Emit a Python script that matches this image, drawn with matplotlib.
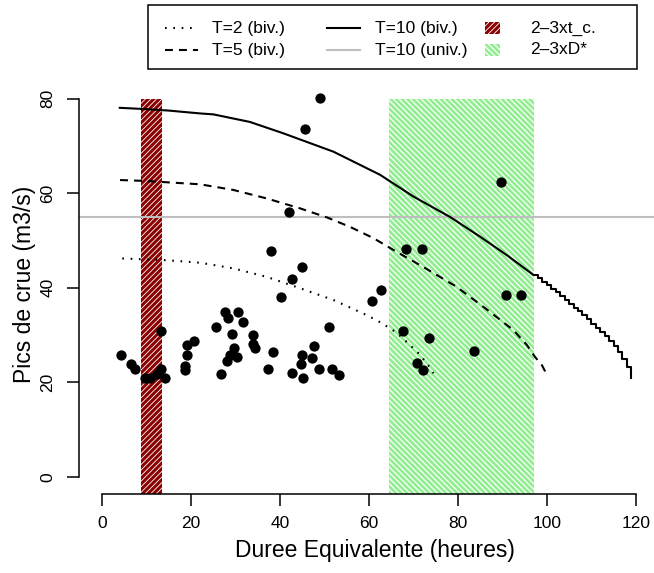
import matplotlib
matplotlib.use('Agg')
import matplotlib.pyplot as plt
from matplotlib.patches import Rectangle

plt.rcParams['font.family'] = ['Liberation Sans', 'DejaVu Sans']
plt.rcParams['hatch.linewidth'] = 0.7

# ---------------- data ----------------
dur_obs = [4.1, 6.5, 7.4, 9.6, 10.7, 12.3, 13.2, 14.1, 13.2, 18.6, 18.6, 19.0, 19.0, 20.6,
           25.6, 26.6, 27.6, 28.2, 30.6, 31.6, 29.1, 34.0, 33.8, 34.3, 29.7, 28.7, 30.4, 28.1,
           37.3, 38.5, 40.1, 38.0, 41.9, 42.7, 44.9, 45.5, 49.0, 42.6, 44.9, 47.1, 47.6, 44.7,
           45.1, 48.8, 51.1, 51.6, 53.3, 60.6, 62.8, 68.3, 71.9, 67.6, 73.4, 83.7, 70.9, 72.2,
           89.7, 90.8, 94.2]
pic_obs = [25.8, 23.8, 22.7, 21.0, 21.0, 21.8, 22.9, 21.0, 30.8, 22.6, 23.4, 25.8, 27.9, 28.7,
           31.7, 21.7, 34.8, 33.5, 34.9, 32.8, 30.3, 29.9, 28.0, 27.3, 27.2, 25.8, 25.4, 24.6,
           22.7, 26.5, 38.1, 47.7, 56.0, 41.8, 44.3, 73.5, 80.1, 22.0, 25.8, 25.1, 27.7, 23.9,
           21.0, 22.7, 31.7, 22.9, 21.5, 37.2, 39.6, 48.3, 48.3, 30.8, 29.3, 26.7, 24.0, 22.6,
           62.3, 38.5, 38.5]

t2_x = [4.5, 10, 15, 22, 29.5, 37, 44.5, 52, 59.5, 62.7, 66.2, 69.2, 71.5, 73.3, 74.5]
t2_y = [46.2, 46.0, 45.8, 45.3, 44.1, 42.3, 39.9, 37.4, 34.2, 32.6, 30.5, 27.9, 25.8, 23.6, 21.9]

t5_x = [4, 10, 15, 22, 29.5, 37, 44.5, 50.5, 55.7, 61, 66.2, 72.2, 79.7, 87.2, 92.5, 95.5,
        97.3, 98.9, 100.2]
t5_y = [62.8, 62.6, 62.3, 61.9, 60.7, 58.9, 56.8, 54.9, 52.9, 50.5, 47.6, 44.4, 40.2, 34.9,
        31.0, 27.9, 25.4, 23.6, 21.2]

t10_x = [3.7, 10, 15, 22, 25, 33.2, 40.7, 52, 62.5, 70, 78.2, 85, 91, 97]
t10_y = [78.1, 77.8, 77.5, 76.9, 76.7, 75.1, 72.7, 68.8, 63.9, 59.3, 55.0, 50.8, 46.9, 42.7]
t10_tail_x = [97, 98, 99, 100, 101, 102, 103, 104, 105, 106, 107, 108, 109, 110, 111, 112,
              113, 114, 115, 116, 117, 118, 119]
t10_tail_y = [42.7, 42.0, 41.3, 40.6, 39.8, 39.0, 38.2, 37.4, 36.6, 35.8, 35.0, 34.2, 33.3,
              32.4, 31.5, 30.6, 29.7, 28.7, 27.6, 26.4, 25.0, 23.3, 21.0]

t10_univ = 55.0
band_tc = (8.8, 13.4)
band_D = (64.5, 97.0)
band_top = 80

x_ticks = [0, 20, 40, 60, 80, 100, 120]
y_ticks = [0, 20, 40, 60, 80]

legend_labels = ['T=2 (biv.)', 'T=5 (biv.)', 'T=10 (biv.)', 'T=10 (univ.)',
                 '2\u20133xt_c.', '2\u20133xD*']

# ---------------- styles ----------------
RED = '#8B0000'
GREEN = '#90EE90'
GREY = '#BEBEBE'
LW = 1.5
DOT = (0.8, 3.2)
DASH = (3.8, 2.9)
HATCH_RED = '//////'
HATCH_GREEN = '\\\\\\\\\\\\'

W, H = 654, 573
fig = plt.figure(figsize=(W / 100, H / 100), dpi=100)


def px_box(l, t, r, b):
    return [l / W, 1 - b / H, (r - l) / W, (b - t) / H]


ax = fig.add_axes(px_box(79.3, 78, 654, 494.3))
ax.set_xlim(-5.17, 124.1)
ax.set_ylim(-3.72, 84.4)
ybot = ax.get_ylim()[0]


def hatched(axis, x0, y0, w, h, face, hatch, hlw):
    r = Rectangle((x0, y0), w, h, facecolor=face, edgecolor='white', hatch=hatch,
                  linewidth=0, zorder=1)
    try:
        r.set_hatch_linewidth(hlw)
    except AttributeError:
        pass
    axis.add_patch(r)
    return r


hatched(ax, band_tc[0], ybot, band_tc[1] - band_tc[0], band_top - ybot, RED, HATCH_RED, 0.6)
hatched(ax, band_D[0], ybot, band_D[1] - band_D[0], band_top - ybot, GREEN, HATCH_GREEN, 0.9)

ax.axhline(t10_univ, color=GREY, lw=LW, zorder=2)
ax.plot(t2_x, t2_y, color='black', lw=LW, dashes=DOT, zorder=3)
ax.plot(t5_x, t5_y, color='black', lw=LW, dashes=DASH, zorder=3)
ax.plot(t10_x, t10_y, color='black', lw=LW, zorder=3, solid_capstyle='butt')
ax.plot(t10_tail_x, t10_tail_y, color='black', lw=LW, drawstyle='steps-post', zorder=3)

ax.scatter(dur_obs, pic_obs, s=55, color='black', linewidths=0, zorder=4)

for s in ['top', 'right']:
    ax.spines[s].set_visible(False)
ax.spines['left'].set_bounds(0, 80)
ax.spines['bottom'].set_bounds(0, 120)
for s in ['left', 'bottom']:
    ax.spines[s].set_linewidth(1.1)
ax.patch.set_visible(False)
ax.set_xticks(x_ticks)
ax.set_yticks(y_ticks)
ax.tick_params(axis='both', length=8.9, width=1.1, labelsize=12.5)
ax.tick_params(axis='x', pad=7)
ax.tick_params(axis='y', pad=8.5, labelrotation=90)
for lab in ax.get_yticklabels():
    lab.set_va('center')

fig.text(375 / W, 1 - 550 / H, 'Duree Equivalente (heures)', ha='center', va='center',
         fontsize=16.5)
fig.text(25 / W, 1 - 284 / H, 'Pics de crue (m3/s)', ha='center', va='center',
         rotation=90, fontsize=16.5)

# ---------------- legend (pixel overlay) ----------------
lax = fig.add_axes([0, 0, 1, 1], zorder=5)
lax.set_xlim(0, W)
lax.set_ylim(H, 0)
lax.axis('off')
lax.patch.set_visible(False)
lax.add_patch(Rectangle((148, 5), 489, 64, fill=False, edgecolor='black', linewidth=1.1))
row = [28, 50]
lax.plot([165, 198], [row[0]] * 2, color='black', lw=LW, dashes=DOT)
lax.plot([165, 198], [row[1]] * 2, color='black', lw=LW, dashes=DASH)
lax.plot([327, 360], [row[0]] * 2, color='black', lw=LW)
lax.plot([327, 360], [row[1]] * 2, color=GREY, lw=LW)
hatched(lax, 485, row[0] - 6, 15, 12, RED, HATCH_RED, 0.6)
hatched(lax, 485, row[1] - 6, 15, 12, GREEN, HATCH_GREEN, 0.9)
for txt, (x, y) in zip(legend_labels, [(212, row[0]), (212, row[1]), (375, row[0]),
                                       (375, row[1]), (530, row[0]), (530, row[1])]):
    lax.text(x, y, txt, ha='left', va='center', fontsize=12.5)

fig.savefig('out.png', dpi=100)
